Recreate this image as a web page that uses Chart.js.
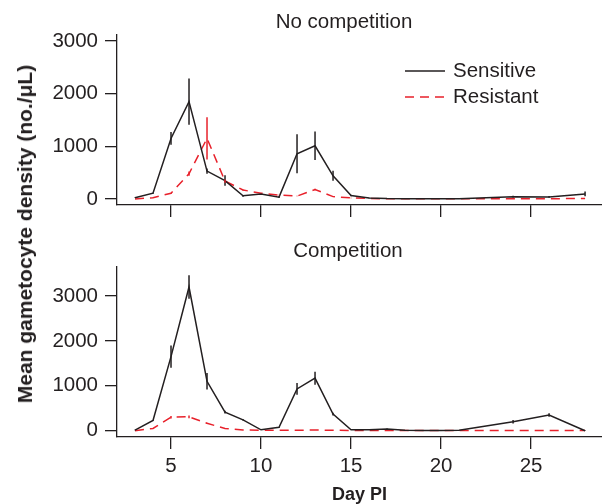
<!DOCTYPE html>
<html>
<head>
<meta charset="utf-8">
<script src="https://cdn.jsdelivr.net/npm/chart.js@4.4.1/dist/chart.umd.min.js"></script>
<style>
  body { margin: 0; background: #fff; }
  #wrap { position: relative; width: 602px; height: 504px; }
  canvas { position: absolute; left: 0; }
  #ytitle {
    position: absolute; left: 25px; top: 234px;
    transform: translate(-50%, -50%) rotate(-90deg);
    font: bold 21px "Liberation Sans", Arial, sans-serif;
    white-space: nowrap; color: #231f20;
  }
</style>
</head>
<body>
<div id="wrap">
  <canvas id="top" width="602" height="230" style="top:0;width:602px;height:230px"></canvas>
  <canvas id="bottom" width="602" height="274" style="top:230px;width:602px;height:274px"></canvas>
  <div id="ytitle">Mean gametocyte density (no./μL)</div>
</div>
<script>
// days post infection
const days = [3, 4, 5, 6, 7, 8, 9, 10, 11, 12, 13, 14, 15, 16, 17, 18, 19, 20, 21, 24, 26, 28];
const xTicks = [5, 10, 15, 20, 25];
const yTicks = [0, 1000, 2000, 3000];

// No competition
const noCompSensitive    = [25, 110, 1150, 1850, 530, 350, 60, 95, 35, 860, 1010, 440, 65, 20, 8, 5, 5, 5, 5, 45, 40, 95];
const noCompSensitiveErr = [5, 10, 120, 440, 50, 100, 15, 20, 10, 370, 270, 95, 15, 5, 5, 3, 3, 3, 3, 15, 15, 45];
const noCompResistant    = [0, 25, 110, 480, 1150, 340, 170, 110, 75, 55, 180, 45, 20, 10, 5, 5, 5, 5, 5, 5, 5, 10];
const noCompResistantErr = [0, 5, 10, 40, 400, 30, 10, 5, 5, 5, 15, 5, 5, 0, 0, 0, 0, 0, 0, 0, 0, 0];

// Competition
const compSensitive    = [15, 230, 1650, 3200, 1100, 415, 240, 20, 75, 930, 1170, 370, 20, 20, 40, 10, 5, 5, 10, 200, 350, 0];
const compSensitiveErr = [5, 10, 250, 260, 185, 30, 15, 5, 10, 130, 145, 30, 5, 5, 10, 5, 3, 3, 3, 40, 40, 5];
const compResistant    = [0, 50, 300, 310, 165, 50, 15, 10, 10, 10, 15, 10, 5, 5, 5, 5, 5, 5, 5, 5, 5, 5];
const compResistantErr = [0, 5, 30, 30, 10, 5, 0, 0, 0, 0, 0, 0, 0, 0, 0, 0, 0, 0, 0, 0, 0, 0];

const FONT = '"Liberation Sans", Arial, sans-serif';
const SIZE = 20.5;
const INK = '#231f20';
const RED = '#e8212b';
Chart.defaults.font.family = FONT;
Chart.defaults.color = INK;

function pts(vals) {
  return days.map((d, i) => ({ x: d, y: vals[i] }));
}

// vertical error bars, no caps
const errorBars = {
  id: 'errorBars',
  afterDatasetsDraw(chart) {
    const { ctx, scales: { x, y } } = chart;
    chart.data.datasets.forEach(ds => {
      if (!ds.errors) return;
      ctx.save();
      ctx.strokeStyle = ds.borderColor;
      ctx.lineWidth = 1.5;
      ds.data.forEach((p, i) => {
        const e = ds.errors[i];
        if (!e) return;
        const px = x.getPixelForValue(p.x);
        ctx.beginPath();
        ctx.moveTo(px, y.getPixelForValue(p.y - e));
        ctx.lineTo(px, y.getPixelForValue(p.y + e));
        ctx.stroke();
      });
      ctx.restore();
    });
  }
};

// panel title + optional legend
const panelText = {
  id: 'panelText',
  afterDraw(chart, args, opts) {
    const ctx = chart.ctx;
    ctx.save();
    ctx.font = SIZE + 'px ' + FONT;
    ctx.fillStyle = INK;
    ctx.textAlign = 'center';
    ctx.textBaseline = 'middle';
    ctx.fillText(opts.text, opts.x, opts.y);
    if (opts.legend) {
      ctx.textAlign = 'left';
      chart.data.datasets.forEach((ds, i) => {
        const ly = opts.legendY + i * 26;
        ctx.strokeStyle = ds.borderColor;
        ctx.lineWidth = 1.5;
        ctx.setLineDash(ds.borderDash || []);
        ctx.beginPath();
        ctx.moveTo(opts.legendX, ly);
        ctx.lineTo(opts.legendX + 40, ly);
        ctx.stroke();
        ctx.setLineDash([]);
        ctx.fillText(ds.label, opts.legendX + 48, ly);
      });
    }
    ctx.restore();
  }
};

function axisStyle() {
  return {
    grid: { drawOnChartArea: false, drawTicks: true, tickLength: 12, color: INK, lineWidth: 1.3 },
    border: { display: true, color: INK, width: 1.3 }
  };
}

function makeChart(id, sVals, sErr, rVals, rErr, o) {
  return new Chart(document.getElementById(id), {
    type: 'line',
    data: {
      datasets: [
        { label: 'Sensitive', data: pts(sVals), errors: sErr, borderColor: INK, borderWidth: 1.5,
          pointRadius: 0, tension: 0 },
        { label: 'Resistant', data: pts(rVals), errors: rErr, borderColor: RED, borderWidth: 1.5,
          borderDash: [9, 6], pointRadius: 0, tension: 0 }
      ]
    },
    options: {
      responsive: false,
      animation: false,
      layout: { padding: { top: o.padTop, right: 0, left: 0, bottom: 0 } },
      plugins: {
        legend: { display: false },
        tooltip: { enabled: false },
        panelText: o.text
      },
      scales: {
        x: {
          type: 'linear', min: 2, max: 28.94,
          afterBuildTicks: s => { s.ticks = xTicks.map(v => ({ value: v })); },
          afterFit: s => { s.height = o.xHeight; },
          ...axisStyle(),
          ticks: { display: o.xLabels, font: { size: SIZE }, padding: 5, maxRotation: 0,
                   callback: v => String(v) },
          title: { display: o.xLabels, text: 'Day PI', font: { size: 18, weight: 'bold', lineHeight: 1 }, padding: 0 }
        },
        y: {
          min: o.yMin, max: o.yMax,
          afterBuildTicks: s => { s.ticks = yTicks.map(v => ({ value: v })); },
          afterFit: s => { s.width = 117; },
          ...axisStyle(),
          ticks: { font: { size: SIZE }, padding: 7, callback: v => String(v) }
        }
      }
    },
    plugins: [errorBars, panelText]
  });
}

makeChart('top', noCompSensitive, noCompSensitiveErr, noCompResistant, noCompResistantErr, {
  padTop: 35, xHeight: 25, xLabels: false, yMin: -114, yMax: 3114,
  text: { text: 'No competition', x: 344, y: 22, legend: true, legendX: 405, legendY: 71 }
});

makeChart('bottom', compSensitive, compSensitiveErr, compResistant, compResistantErr, {
  padTop: 37, xHeight: 67, xLabels: true, yMin: -140, yMax: 3645,
  text: { text: 'Competition', x: 348, y: 21, legend: false }
});
</script>
</body>
</html>
